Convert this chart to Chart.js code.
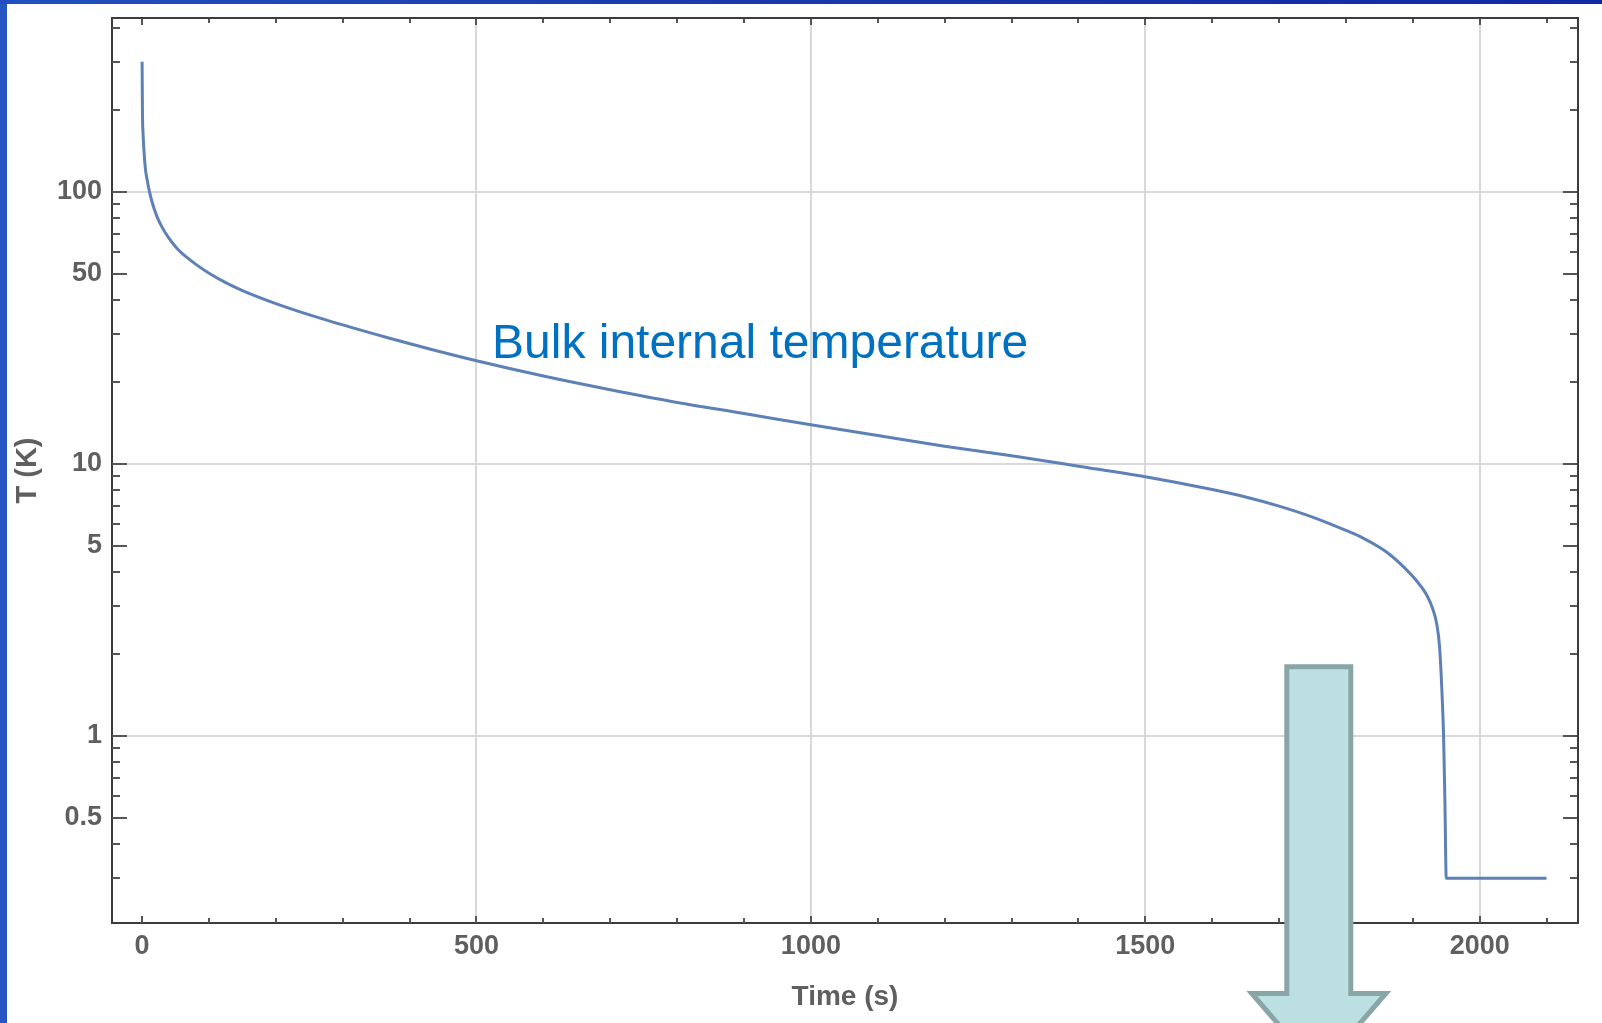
<!DOCTYPE html>
<html>
<head>
<meta charset="utf-8">
<title>Bulk internal temperature</title>
<script src="https://cdn.jsdelivr.net/npm/chart.js@4.4.1/dist/chart.umd.min.js"></script>
<style>
  html, body { margin: 0; padding: 0; }
  body { width: 1602px; height: 1023px; overflow: hidden; position: relative; background: #2656c4; }
  #band { position: absolute; left: 0; top: 0; width: 1602px; height: 4px; background: linear-gradient(90deg, #2150c0, #1a37ac 50%, #1229a6); }
  #sheet { position: absolute; left: 7px; top: 4px; right: 0; bottom: 0; background: #fff; }
  #cooldown { position: absolute; left: 0; top: 0; }
  #arrow { position: absolute; left: 0; top: 0; }
</style>
</head>
<body>
<div id="band"></div>
<div id="sheet"></div>
<canvas id="cooldown" width="1602" height="1023"></canvas>
<svg id="arrow" width="1602" height="1023">
  <polygon points="1286.8,666.8 1350.8,666.8 1350.8,993.5 1385.8,993.5 1318.8,1071 1251.8,993.5 1286.8,993.5"
           fill="#bce0e2" stroke="#8aa5a6" stroke-width="5" stroke-linejoin="miter"/>
</svg>
<script>
// cooldown curve: time (s) vs temperature (K)
const times = [0, 0.5, 1.5, 3, 5, 8, 11, 15, 22, 29, 39, 52, 59, 67, 82, 102, 125, 151, 201, 276,
  366, 430, 500, 600, 700, 800, 900, 1000, 1100, 1200, 1300, 1400, 1500, 1600, 1650, 1700,
  1750, 1800, 1825, 1850, 1865, 1880, 1905, 1920, 1930, 1936, 1940, 1943, 1946, 1948, 1950, 2100];
const temps = [300, 200, 162, 139, 121, 109, 100, 91.4, 81.3, 74.7, 68.1, 62.0, 59.6, 57.3, 53.7, 49.8, 46.3, 43.2, 38.7, 33.7,
  29.1, 26.4, 23.9, 21.0, 18.7, 16.8, 15.3, 13.9, 12.7, 11.6, 10.7, 9.8, 8.96, 8.04, 7.55, 6.99,
  6.37, 5.69, 5.34, 4.93, 4.65, 4.32, 3.73, 3.32, 2.92, 2.56, 2.13, 1.56, 1.0, 0.575, 0.3, 0.3];

const xTicks = [0, 100, 200, 300, 400, 500, 600, 700, 800, 900, 1000, 1100,
  1200, 1300, 1400, 1500, 1600, 1700, 1800, 1900, 2000, 2100];
const xLabels = [0, 500, 1000, 1500, 2000];
const xGrid = [500, 1000, 1500, 2000];

const yTicks = [0.3, 0.4, 0.5, 0.6, 0.7, 0.8, 0.9, 1, 2, 3, 4, 5, 6, 7, 8, 9,
  10, 20, 30, 40, 50, 60, 70, 80, 90, 100, 200, 300, 400];
const yLabels = [0.5, 1, 5, 10, 50, 100];
const yGrid = [1, 10, 100];

const curveLabel = 'Bulk internal temperature';

const points = times.map((t, i) => ({ x: t, y: temps[i] }));

const FONT = '"Liberation Sans", Arial, sans-serif';
const GREY = '#5f5f5f';

// frame on all four sides with inward ticks, plus the curve label
const frameTicks = {
  id: 'frameTicks',
  afterDraw(chart) {
    const { ctx, chartArea: a, scales: { x, y } } = chart;
    ctx.save();
    ctx.strokeStyle = '#555';
    ctx.lineWidth = 2;
    ctx.beginPath();
    xTicks.forEach(v => {
      const px = Math.round(x.getPixelForValue(v));
      const len = xLabels.includes(v) ? 7 : 5;
      ctx.moveTo(px, a.bottom); ctx.lineTo(px, a.bottom - len);
      ctx.moveTo(px, a.top); ctx.lineTo(px, a.top + len);
    });
    yTicks.forEach(v => {
      const py = Math.round(y.getPixelForValue(v));
      const len = yLabels.includes(v) ? 15 : 8;
      ctx.moveTo(a.left, py); ctx.lineTo(a.left + len, py);
      ctx.moveTo(a.right, py); ctx.lineTo(a.right - len, py);
    });
    ctx.stroke();

    ctx.strokeStyle = '#3c3c3c';
    ctx.beginPath();
    ctx.moveTo(a.left, a.top);
    ctx.lineTo(a.right, a.top);
    ctx.lineTo(a.right, a.bottom);
    ctx.stroke();

    ctx.fillStyle = '#0070c0';
    ctx.font = '48px ' + FONT;
    ctx.textBaseline = 'alphabetic';
    ctx.fillText(curveLabel, 492, 358);
    ctx.restore();
  }
};

new Chart(document.getElementById('cooldown'), {
  type: 'line',
  data: {
    datasets: [{
      data: points,
      borderColor: '#5e81b5',
      borderWidth: 3,
      pointRadius: 0,
      fill: false,
      cubicInterpolationMode: 'monotone'
    }]
  },
  options: {
    responsive: false,
    animation: false,
    devicePixelRatio: 1,
    layout: { padding: { left: 0, top: 18, right: 24, bottom: 0 } },
    plugins: { legend: { display: false }, tooltip: { enabled: false } },
    scales: {
      x: {
        type: 'linear',
        min: -45,
        max: 2147,
        afterBuildTicks: s => { s.ticks = xTicks.map(v => ({ value: v })); },
        afterFit: s => { s.height = 100; s.paddingLeft = 0; s.paddingRight = 0; },
        ticks: {
          autoSkip: false,
          maxRotation: 0,
          padding: 7,
          color: GREY,
          font: { family: FONT, size: 27, weight: 'bold' },
          callback: v => xLabels.includes(v) ? String(v) : ''
        },
        grid: {
          drawTicks: false,
          lineWidth: 2,
          color: c => (c.tick && xGrid.includes(c.tick.value)) ? '#d8d8d8' : 'rgba(0,0,0,0)'
        },
        border: { display: true, color: '#3c3c3c', width: 2 },
        title: {
          display: true,
          text: 'Time (s)',
          color: GREY,
          font: { family: FONT, size: 28, weight: 'bold' },
          padding: { top: 0, bottom: 9 }
        }
      },
      y: {
        type: 'logarithmic',
        min: 0.2053,
        max: 434.6,
        afterBuildTicks: s => { s.ticks = yTicks.map(v => ({ value: v })); },
        afterFit: s => { s.width = 112; s.paddingTop = 0; s.paddingBottom = 0; },
        ticks: {
          autoSkip: false,
          padding: 10,
          color: GREY,
          font: { family: FONT, size: 27, weight: 'bold' },
          callback: v => yLabels.includes(v) ? String(v) : ''
        },
        grid: {
          drawTicks: false,
          lineWidth: 2,
          color: c => (c.tick && yGrid.includes(c.tick.value)) ? '#d8d8d8' : 'rgba(0,0,0,0)'
        },
        border: { display: true, color: '#3c3c3c', width: 2 },
        title: {
          display: true,
          text: 'T (K)',
          color: GREY,
          font: { family: FONT, size: 29, weight: 'bold' },
          padding: { top: 11, bottom: 0 }
        }
      }
    }
  },
  plugins: [frameTicks]
});
</script>
</body>
</html>
